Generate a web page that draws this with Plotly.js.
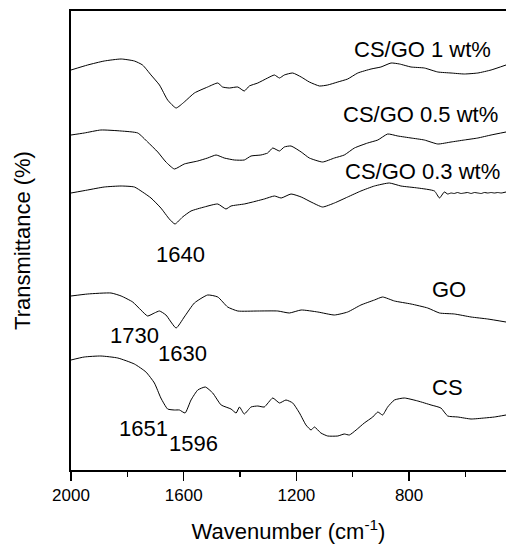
<!DOCTYPE html>
<html>
<head>
<meta charset="utf-8">
<script src="https://cdn.plot.ly/plotly-3.0.1.min.js"></script>
<style>html,body{margin:0;padding:0;background:#fff;}#chart{width:506px;height:546px;}</style>
</head>
<body>
<div id="chart"></div>
<script>
// Wavenumber (cm-1) and transmittance (arbitrary, offset) for each spectrum
const wn1 = [2000,1941,1882,1822,1775,1746,1716,1686,1657,1627,1598,1562,1515,1479,1462,1438,1408,1385,1367,1337,1302,1278,1260,1243,1213,1183,1154,1118,1089,1053,1018,982,935,900,864,834,793,746,698,651,604,556,509,456];
const t1  = [400,405,409,411,409,405,395,385,370,362,368,377,383,387,383,382,383,379,384,387,392,395,392,395,397,393,388,384,385,388,391,397,401,403,407,406,403,402,398,397,396,397,400,405];

const wn2 = [2000,1953,1894,1822,1763,1728,1692,1663,1633,1598,1550,1515,1485,1456,1420,1385,1361,1326,1302,1284,1260,1243,1219,1183,1154,1107,1065,1030,994,947,911,876,840,793,746,698,651,604,556,509,456];
const t2  = [335,337,340,339,337,328,318,308,301,306,309,312,315,312,310,310,314,315,317,322,319,323,324,318,312,308,312,315,322,327,330,336,334,332,330,326,328,330,332,335,338];

const wn3 = [2000,1941,1882,1822,1775,1746,1716,1681,1651,1631,1604,1574,1527,1479,1450,1432,1385,1355,1314,1278,1254,1219,1183,1148,1107,1065,1018,971,923,870,829,769,710,692,675,663,651,640,628,616,604,592,580,568,556,544,533,521,509,497,485,473,456];
const t3  = [277,280,283,284,283,278,272,262,251,246,253,259,263,266,261,264,266,268,271,274,272,276,273,268,263,267,273,279,284,287,284,282,279,272,278,276,277,276.5,277.5,276.5,277,277.5,276.5,277.5,277,276.5,277.5,277,277.5,277,277.5,277,278];

const wnGO = [2000,1941,1858,1822,1781,1752,1728,1704,1686,1663,1627,1598,1562,1515,1479,1444,1408,1337,1266,1225,1183,1124,1065,1018,971,923,894,852,793,734,692,639,580,521,456];
const tGO  = [174,176,177,174,168,160,154,157,159,155,142,153,167,175,173,163,159,159,159,157,160,158,155,158,165,170,173,169,166,162,157,156,153,151,148];

const wnCS = [2000,1953,1894,1834,1775,1734,1704,1681,1657,1633,1615,1595,1574,1550,1523,1497,1467,1432,1414,1402,1385,1361,1337,1314,1284,1260,1237,1213,1189,1166,1148,1136,1113,1089,1053,1030,1012,988,959,929,911,894,876,852,817,769,722,687,663,627,580,533,497,456];
const tCS  = [110,113,114,112,106,98,87,72,61,60,60,57,70,80,83,77,65,61,57,63,56,63,64,63,72,67,70,67,57,45,40,43,37,34,34,36,35,40,47,53,58,55,63,70,72,69,65,62,54,53,51,52,53,55];

const labels = ["CS/GO 1 wt%","CS/GO 0.5 wt%","CS/GO 0.3 wt%","1640","GO","1730","1630","CS","1651","1596"];
const labelX = [754,758,751,1613,659,1776,1606,662,1741,1564];
const labelY = [421,356,299,216,181,135,117,83,42,27];

const xTitle = "Wavenumber (cm<sup>-1</sup>)";
const yTitle = "Transmittance (%)";

const FONT = "Arial, 'Liberation Sans', sans-serif";
const line = {color:'#000', width:1, shape:'spline', smoothing:0.5};
const series = [[wn1,t1],[wn2,t2],[wn3,t3],[wnGO,tGO],[wnCS,tCS]];
const data = series.map(s => ({x:s[0], y:s[1], type:'scatter', mode:'lines', line:line, hoverinfo:'skip', showlegend:false}));

const annotations = labels.map((t,i) => ({text:t, x:labelX[i], y:labelY[i], xref:'x', yref:'y', showarrow:false, font:{family:FONT, size:22, color:'#000'}}));

const layout = {
  width:506, height:546,
  margin:{l:71, r:0, t:11, b:76},
  paper_bgcolor:'#fff', plot_bgcolor:'#fff',
  font:{family:FONT, color:'#000'},
  showlegend:false,
  xaxis:{
    range:[2000,456], showgrid:false, zeroline:false,
    showline:true, linecolor:'#000', linewidth:2, mirror:true,
    ticks:'outside', ticklen:9, tickwidth:1.5, tickcolor:'#000',
    tick0:0, dtick:400,
    minor:{ticks:'outside', ticklen:5, tickwidth:1.5, tickcolor:'#000', dtick:200, showgrid:false},
    tickfont:{family:FONT, size:17, color:'#000'},
    title:{text:xTitle, font:{family:FONT, size:22, color:'#000'}, standoff:19}
  },
  yaxis:{
    range:[0,459], showgrid:false, zeroline:false,
    showline:true, linecolor:'#000', linewidth:2,
    ticks:'', showticklabels:false,
    title:{text:yTitle, font:{family:FONT, size:22, color:'#000'}, standoff:32}
  },
  annotations:annotations
};

Plotly.newPlot('chart', data, layout, {staticPlot:true, displayModeBar:false});
</script>
</body>
</html>
